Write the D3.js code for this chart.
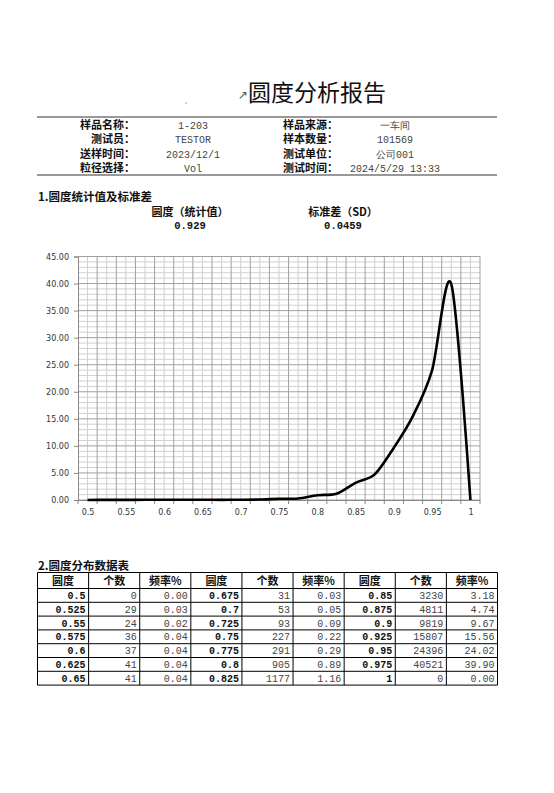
<!DOCTYPE html>
<html>
<head>
<meta charset="utf-8">
<script src="https://cdn.jsdelivr.net/npm/d3@7"></script>
<style>
  body { margin: 0; background: #fff; }
  svg { display: block; }
  .cjk { font-family: "Noto Sans CJK SC", sans-serif; }
  .mono { font-family: "Liberation Mono", "DejaVu Sans Mono", monospace; }
  .tick-lbl { font-family: "DejaVu Sans", sans-serif; font-size: 8px; fill: #333; }
</style>
</head>
<body>
<div id="page"></div>
<script>
// info block (label, value) pairs, left and right columns
var infoLeft = [["样品名称：", "1-203"], ["测试员：", "TESTOR"], ["送样时间：", "2023/12/1"], ["粒径选择：", "Vol"]];
var infoRight = [["样品来源：", "一车间"], ["样本数量：", "101569"], ["测试单位：", "公司001"], ["测试时间：", "2024/5/29 13:33"]];

// summary stats
var statLabels = ["圆度（统计值）", "标准差（SD）"];
var statValues = ["0.929", "0.0459"];

// distribution table
var roundness = ["0.5", "0.525", "0.55", "0.575", "0.6", "0.625", "0.65",
                 "0.675", "0.7", "0.725", "0.75", "0.775", "0.8", "0.825",
                 "0.85", "0.875", "0.9", "0.925", "0.95", "0.975", "1"];
var counts = [0, 29, 24, 36, 37, 41, 41, 31, 53, 93, 227, 291, 905, 1177,
              3230, 4811, 9819, 15807, 24396, 40521, 0];
var freq = [0.00, 0.03, 0.02, 0.04, 0.04, 0.04, 0.04, 0.03, 0.05, 0.09, 0.22, 0.29, 0.89, 1.16,
            3.18, 4.74, 9.67, 15.56, 24.02, 39.90, 0.00];
var tableHeads = ["圆度", "个数", "频率%"];

// axis ticks
var yTicks = [0, 5, 10, 15, 20, 25, 30, 35, 40, 45];
var xTickLabels = ["0.5", "0.55", "0.6", "0.65", "0.7", "0.75", "0.8", "0.85", "0.9", "0.95", "1"];

var W = 554, H = 793;
var svg = d3.select("#page").append("svg").attr("width", W).attr("height", H);
svg.append("rect").attr("width", W).attr("height", H).attr("fill", "#fff");

// ---- title
svg.append("text").attr("x", 238).attr("y", 99).attr("font-size", 12)
    .attr("fill", "#555").attr("font-family", "DejaVu Sans").text("↗");
svg.append("circle").attr("cx", 186).attr("cy", 103).attr("r", 0.8).attr("fill", "#999");
svg.append("text").attr("class", "cjk").attr("x", 248).attr("y", 101)
    .attr("font-size", 23).attr("fill", "#111").text("圆度分析报告");

// ---- info block
[117, 175].forEach(function(yy){
    svg.append("line").attr("x1", 37).attr("x2", 497).attr("y1", yy).attr("y2", yy)
        .attr("stroke", "#777").attr("stroke-width", 1.6);
});
var infoY = d3.scalePoint().domain(d3.range(4)).range([129, 172]);
function infoCol(rows, labelRight, valueCenter) {
    rows.forEach(function(r, i){
        svg.append("text").attr("class", "cjk").attr("x", labelRight).attr("y", infoY(i))
            .attr("text-anchor", "end").attr("font-size", 11).attr("font-weight", "bold")
            .attr("fill", "#111").text(r[0]);
        svg.append("text").attr("class", "mono").attr("x", valueCenter).attr("y", infoY(i))
            .attr("text-anchor", "middle").attr("font-size", 10).attr("fill", "#444").text(r[1]);
    });
}
infoCol(infoLeft, 135, 193);
infoCol(infoRight, 338, 395);

// ---- section 1
svg.append("text").attr("class", "cjk").attr("x", 38).attr("y", 201)
    .attr("font-size", 11.5).attr("font-weight", "bold").attr("fill", "#111").text("1.圆度统计值及标准差");
[190, 343].forEach(function(cx, i){
    svg.append("text").attr("class", "cjk").attr("x", cx).attr("y", 216).attr("text-anchor", "middle")
        .attr("font-size", 11).attr("font-weight", "bold").attr("fill", "#111").text(statLabels[i]);
    svg.append("text").attr("class", "mono").attr("x", cx).attr("y", 229).attr("text-anchor", "middle")
        .attr("font-size", 10.5).attr("font-weight", "bold").attr("fill", "#111").text(statValues[i]);
});

// ---- chart
var pLeft = 78, pRight = 480, pTop = 256.5, pBottom = 500;
var x = d3.scalePoint().domain(roundness).range([pLeft, pRight]).padding(0.5);
var y = d3.scaleLinear().domain([0, 45]).range([pBottom, pTop]);
var step = x.step();
var g = svg.append("g");

// minor / major grid
var vMinor = roundness.map(function(c){ return x(c); });
var vMajor = roundness.map(function(c){ return x(c) + step / 2; }).filter(function(v){ return v < pRight - 1; });
g.selectAll(".vmin").data(vMinor).join("line")
    .attr("x1", d => d).attr("x2", d => d).attr("y1", pTop).attr("y2", pBottom)
    .attr("stroke", "#d0d0d0").attr("stroke-width", 1);
g.selectAll(".hmin").data(d3.range(1, 45).filter(v => v % 5)).join("line")
    .attr("x1", pLeft).attr("x2", pRight).attr("y1", d => y(d)).attr("y2", d => y(d))
    .attr("stroke", "#d0d0d0").attr("stroke-width", 1);
g.selectAll(".vmaj").data(vMajor).join("line")
    .attr("x1", d => d).attr("x2", d => d).attr("y1", pTop).attr("y2", pBottom)
    .attr("stroke", "#a0a0a0").attr("stroke-width", 1);
g.selectAll(".hmaj").data(yTicks).join("line")
    .attr("x1", pLeft).attr("x2", pRight).attr("y1", d => y(d)).attr("y2", d => y(d))
    .attr("stroke", "#a0a0a0").attr("stroke-width", 1);
g.append("line").attr("x1", pRight).attr("x2", pRight).attr("y1", pTop).attr("y2", pBottom)
    .attr("stroke", "#a0a0a0");

// axes
var yAxis = d3.axisLeft(y).tickValues(yTicks).tickSize(4).tickFormat(d3.format(".2f"));
var ya = svg.append("g").attr("transform", "translate(" + pLeft + ",0)").call(yAxis);
ya.select(".domain").attr("stroke", "#888");
ya.selectAll(".tick line").attr("stroke", "#888");
ya.selectAll("text").attr("class", "tick-lbl").attr("x", -9);

var xAxis = d3.axisBottom(x).tickValues(xTickLabels).tickSize(0).tickPadding(9);
var xa = svg.append("g").attr("transform", "translate(0," + pBottom + ")").call(xAxis);
xa.select(".domain").attr("stroke", "#888");
xa.selectAll("text").attr("class", "tick-lbl");
xa.selectAll(".bt").data([pLeft].concat(vMajor, [pRight])).join("line")
    .attr("x1", d => d).attr("x2", d => d).attr("y1", 0).attr("y2", 4).attr("stroke", "#888");

// smoothed frequency line
var pts = roundness.map(function(c, i){ return [x(c), y(freq[i])]; });
svg.append("path").attr("d", d3.line().curve(d3.curveCardinal.tension(0.1))(pts))
    .attr("fill", "none").attr("stroke", "#000").attr("stroke-width", 2.6)
    .attr("stroke-linejoin", "round");

// ---- section 2 table
svg.append("text").attr("class", "cjk").attr("x", 38).attr("y", 570)
    .attr("font-size", 11.5).attr("font-weight", "bold").attr("fill", "#111").text("2.圆度分布数据表");

var tLeft = 37.5, tRight = 497.5, tTop = 572.5, headH = 16, rowH = 13.8;
var cols = d3.scaleBand().domain(d3.range(9)).range([tLeft, tRight]);
var cw = cols.bandwidth();
var tb = svg.append("g");
for (var c = 0; c < 9; c++) {
    tb.append("text").attr("class", "cjk").attr("x", cols(c) + cw / 2).attr("y", tTop + 12)
        .attr("text-anchor", "middle").attr("font-size", 11).attr("font-weight", "bold")
        .attr("fill", "#111").text(tableHeads[c % 3]);
}
for (var r = 0; r < 7; r++) {
    var ry = tTop + headH + r * rowH + 10.5;
    for (var grp = 0; grp < 3; grp++) {
        var k = grp * 7 + r;
        var vals = [roundness[k], counts[k], freq[k].toFixed(2)];
        vals.forEach(function(v, j){
            var cc = grp * 3 + j;
            tb.append("text").attr("class", "mono").attr("x", cols(cc) + cw - 3).attr("y", ry)
                .attr("text-anchor", "end").attr("font-size", 10)
                .attr("font-weight", j === 0 ? "bold" : "normal")
                .attr("fill", j === 0 ? "#111" : "#444").text(v);
        });
    }
}
// table borders
var rowLines = [tTop, tTop + headH].concat(d3.range(1, 8).map(function(i){ return tTop + headH + i * rowH; }));
tb.selectAll(".rl").data(rowLines).join("line")
    .attr("x1", tLeft).attr("x2", tRight).attr("y1", d => d).attr("y2", d => d)
    .attr("stroke", "#000").attr("stroke-width", 1);
tb.selectAll(".cl").data(d3.range(10).map(function(i){ return tLeft + i * cw; })).join("line")
    .attr("x1", d => d).attr("x2", d => d).attr("y1", tTop).attr("y2", rowLines[rowLines.length - 1])
    .attr("stroke", "#000").attr("stroke-width", 1);
</script>
</body>
</html>
